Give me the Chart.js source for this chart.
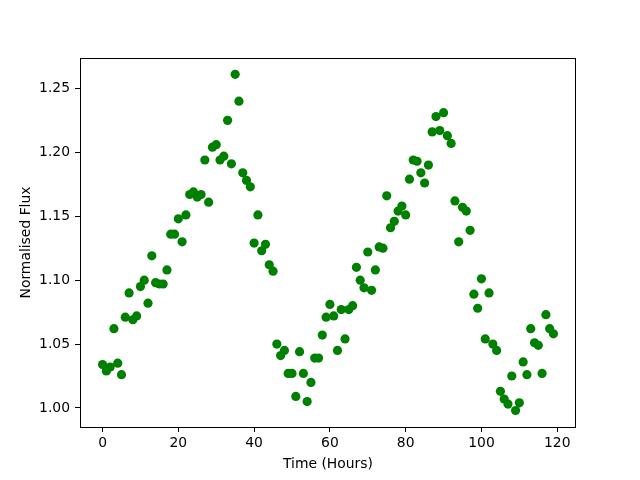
<!DOCTYPE html>
<html>
<head>
<meta charset="utf-8">
<script src="https://cdn.jsdelivr.net/npm/chart.js@4/dist/chart.umd.min.js"></script>
<style>
	body{margin:0;background:#fff}
	#c{display:block}
</style>
</head>
<body>
<canvas id="c" width="640" height="480"></canvas>
<script>
"use strict"
// time in hours, one reading per hour
const hours = [
	0,1,2,3,4,5,6,7,8,9,10,11,12,13,14,15,16,17,18,19,
	20,21,22,23,24,25,26,27,28,29,30,31,32,33,34,35,36,37,38,39,
	40,41,42,43,44,45,46,47,48,49,50,51,52,53,54,55,56,57,58,59,
	60,61,62,63,64,65,66,67,68,69,70,71,72,73,74,75,76,77,78,79,
	80,81,82,83,84,85,86,87,88,89,90,91,92,93,94,95,96,97,98,99,
	100,101,102,103,104,105,106,107,108,109,110,111,112,113,114,115,116,117,118,119
]
const flux = [
	1.034,1.029,1.032,1.062,1.035,1.026,1.071,1.090,1.069,1.072,
	1.095,1.100,1.082,1.119,1.098,1.097,1.097,1.108,1.136,1.136,
	1.148,1.130,1.151,1.167,1.169,1.165,1.167,1.194,1.161,1.204,
	1.206,1.194,1.197,1.225,1.191,1.261,1.240,1.184,1.178,1.173,
	1.129,1.151,1.123,1.128,1.112,1.107,1.050,1.041,1.045,1.027,
	1.027,1.009,1.044,1.027,1.005,1.020,1.039,1.039,1.057,1.071,
	1.081,1.072,1.045,1.077,1.054,1.077,1.080,1.110,1.100,1.094,
	1.122,1.092,1.108,1.126,1.125,1.166,1.141,1.146,1.154,1.158,
	1.151,1.179,1.194,1.193,1.184,1.176,1.190,1.216,1.228,1.217,
	1.231,1.213,1.207,1.162,1.130,1.157,1.154,1.139,1.089,1.078,
	1.101,1.054,1.090,1.050,1.045,1.013,1.007,1.003,1.025,0.998,
	1.004,1.036,1.026,1.062,1.051,1.049,1.027,1.073,1.062,1.058
]
const xTicks = [0,20,40,60,80,100,120]
const yTicks = [1.00,1.05,1.10,1.15,1.20,1.25]

const font = {family:'"DejaVu Sans", sans-serif', size:13.9}

let frame = {
	id:'frame',
	afterDatasetsDraw(chart){
		const {ctx, chartArea:a} = chart
		ctx.save()
		ctx.strokeStyle = '#000'
		ctx.lineWidth = 1
		ctx.strokeRect(Math.round(a.left)+0.5, Math.round(a.top)+0.5, Math.round(a.right-a.left)-1, Math.round(a.bottom-a.top))
		ctx.restore()
	}
}

let axisGrid = {display:true, drawOnChartArea:false, drawTicks:true, tickLength:5, color:'#000', lineWidth:1}

new Chart(document.getElementById('c'), {
	type:'scatter',
	data:{
		datasets:[{
			data: hours.map((h,i)=>({x:h, y:flux[i]})),
			backgroundColor:'#008000',
			borderWidth:0,
			pointRadius:4.6,
			pointHoverRadius:4.6
		}]
	},
	options:{
		responsive:false,
		animation:false,
		layout:{padding:{top:58, right:64, left:0, bottom:0}},
		plugins:{legend:{display:false}, tooltip:{enabled:false}},
		scales:{
			x:{
				type:'linear',
				min:-5.95, max:124.95,
				border:{display:false},
				grid:axisGrid,
				afterBuildTicks:s=>{ s.ticks = xTicks.map(v=>({value:v})) },
				afterFit:s=>{ s.height = 53 },
				ticks:{color:'#000', font:font, padding:3, maxRotation:0, callback:v=>String(v)},
				title:{display:true, text:'Time (Hours)', color:'#000', font:font, padding:{top:0, bottom:7}}
			},
			y:{
				type:'linear',
				min:0.9851, max:1.2738,
				border:{display:false},
				grid:axisGrid,
				afterBuildTicks:s=>{ s.ticks = yTicks.map(v=>({value:v})) },
				afterFit:s=>{ s.width = 80 },
				ticks:{color:'#000', font:font, padding:5, callback:v=>Number(v).toFixed(2)},
				title:{display:true, text:'Normalised Flux', color:'#000', font:font, padding:{top:18, bottom:0}}
			}
		}
	},
	plugins:[frame]
})
</script>
</body>
</html>
